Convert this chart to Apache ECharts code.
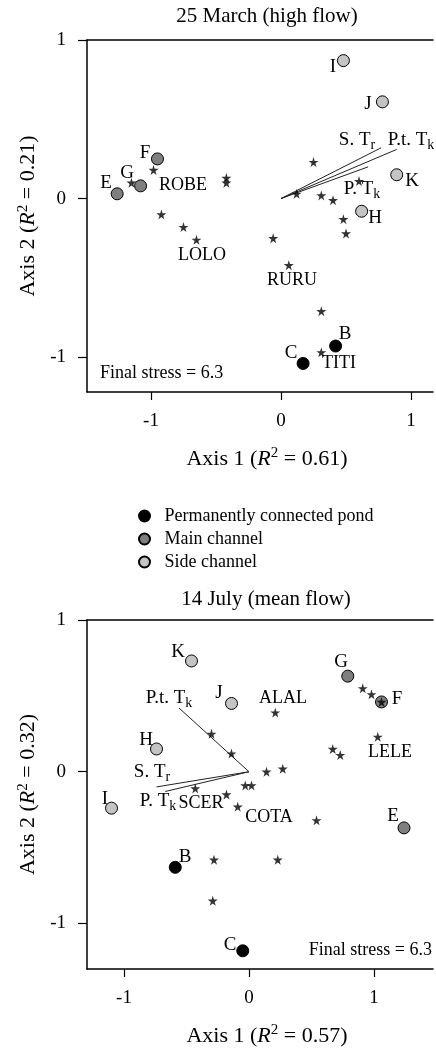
<!DOCTYPE html>
<html><head><meta charset="utf-8">
<script src="https://cdn.jsdelivr.net/npm/echarts@6/dist/echarts.min.js"></script>
<style>html,body{margin:0;padding:0;background:#fff}#c{width:436px;height:1048px}</style>
</head><body><div id="c"></div>
<script>
// ---------- DATA ----------
const panelTitles = ['25 March (high flow)', '14 July (mean flow)'];
const axis1R2 = ['0.61', '0.57'];
const axis2R2 = ['0.21', '0.32'];
const stressValues = ['6.3', '6.3'];
const tickValues = [-1, 0, 1];
const siteTypes = ['Permanently connected pond', 'Main channel', 'Side channel'];

// [site, axis1, axis2]
const marchPond = [['B', 0.42, -0.93], ['C', 0.17, -1.04]];
const marchMain = [['F', -0.95, 0.25], ['G', -1.08, 0.08], ['E', -1.26, 0.03]];
const marchSide = [['I', 0.48, 0.87], ['J', 0.78, 0.61], ['K', 0.89, 0.15], ['H', 0.62, -0.08]];
// [axis1, axis2, species label]
const marchSpecies = [
  [-0.98, 0.18, ''], [-1.15, 0.10, 'ROBE'], [-0.42, 0.13, ''], [-0.42, 0.10, ''],
  [0.25, 0.23, ''], [0.12, 0.03, ''], [0.31, 0.02, ''], [0.40, -0.01, ''],
  [0.60, 0.11, ''], [0.48, -0.13, ''], [0.50, -0.22, ''], [-0.92, -0.10, ''],
  [-0.75, -0.18, ''], [-0.65, -0.26, 'LOLO'], [-0.06, -0.25, ''], [0.06, -0.42, 'RURU'],
  [0.31, -0.71, ''], [0.31, -0.97, 'TITI']
];
// [vector label, axis1 end, axis2 end]
const marchVectors = [['S. T|r', 0.77, 0.32], ['P.t. T|k', 0.89, 0.31], ['P. T|k', 0.67, 0.20]];

const julyPond = [['B', -0.59, -0.63], ['C', -0.05, -1.18]];
const julyMain = [['G', 0.79, 0.63], ['F', 1.06, 0.46], ['E', 1.24, -0.37]];
const julySide = [['K', -0.46, 0.73], ['J', -0.14, 0.45], ['H', -0.74, 0.15], ['I', -1.10, -0.24]];
const julySpecies = [
  [0.21, 0.39, 'ALAL'], [-0.30, 0.25, ''], [-0.14, 0.12, ''], [0.14, 0.00, ''],
  [0.27, 0.02, ''], [-0.03, -0.09, ''], [0.02, -0.09, ''], [-0.43, -0.11, ''],
  [-0.18, -0.15, 'SCER'], [-0.09, -0.23, 'COTA'], [0.91, 0.55, ''], [0.98, 0.51, ''],
  [1.06, 0.46, ''], [1.03, 0.23, 'LELE'], [0.67, 0.15, ''], [0.73, 0.11, ''],
  [0.54, -0.32, ''], [-0.28, -0.58, ''], [0.23, -0.58, ''], [-0.29, -0.85, '']
];
const julyVectors = [['P.t. T|k', -0.56, 0.42], ['S. T|r', -0.74, -0.10], ['P. T|k', -0.67, -0.13]];

// ---------- STYLE / LAYOUT ----------
const FONT = '"Liberation Serif","DejaVu Serif",serif';
const typeColors = ['#000000', '#7f7f7f', '#c4c4c4'];
const STAR = 'path://M50,0 L61,35 L98,35 L68,57 L79,91 L50,70 L21,91 L32,57 L2,35 L39,35 Z';
// label offsets (px, label centre relative to mark)
const siteOffsets = [
  {I:[-10,6], J:[-14,2], K:[15,6], H:[13,7], F:[-12,-6], G:[-14,-13], E:[-11,-11], B:[9,-12], C:[-12,-10]},
  {K:[-14,-9], J:[-13,-10], H:[-11,-9], I:[-7,-9], G:[-7,-14], F:[15,-3], E:[-11,-12], B:[10,-10], C:[-13,-6]}
];
const speciesOffsets = [
  {ROBE:[52,2], LOLO:[6,15], RURU:[3,15], TITI:[18,11]},
  {ALAL:[8,-15], LELE:[12,15], SCER:[-26,8], COTA:[31,10]}
];
const vectorOffsets = [
  {'S. T|r':[-24,-8], 'P.t. T|k':[14,-9], 'P. T|k':[-6,22]},
  {'P.t. T|k':[-10,-10], 'S. T|r':[-5,-15], 'P. T|k':[-7,10]}
];
const grids = [
  {left: 87, top: 40, width: 346, height: 352},
  {left: 87, top: 620, width: 346, height: 352}
];
const xRanges = [[-1.492, 1.169], [-1.296, 1.472]];
const yRanges = [[-1.22, 1.0], [-1.30, 1.0]];

const richText = {
  sub: {fontFamily: FONT, fontSize: 14, color: '#000', fill: '#000', padding: [10, 0, 0, 0]},
  n: {fontFamily: FONT, fontSize: 19, color: '#000', fill: '#000'},
  i: {fontFamily: FONT, fontSize: 22, fontStyle: 'italic', color: '#000'},
  sup: {fontFamily: FONT, fontSize: 15, color: '#000', padding: [0, 0, 11, 0]}
};
function vecText(lbl) {
  const [a, b] = lbl.split('|');
  return '{n|' + a + '}{sub|' + b + '}';
}

const series = [];
const sitesByPanel = [[marchPond, marchMain, marchSide], [julyPond, julyMain, julySide]];
const speciesByPanel = [marchSpecies, julySpecies];
const vectorsByPanel = [marchVectors, julyVectors];

for (let p = 0; p < 2; p++) {
  vectorsByPanel[p].forEach(v => {
    series.push({type: 'line', xAxisIndex: p, yAxisIndex: p, symbol: 'none', silent: true,
      lineStyle: {color: '#222', width: 1}, data: [[0, 0], [v[1], v[2]]], z: 2});
  });
  sitesByPanel[p].forEach((arr, t) => {
    series.push({type: 'scatter', name: siteTypes[t], xAxisIndex: p, yAxisIndex: p,
      symbol: 'circle', symbolSize: 12, z: 3, silent: true,
      itemStyle: {color: typeColors[t], borderColor: '#000', borderWidth: 1, opacity: 1},
      data: arr.map(s => [s[1], s[2]])});
  });
  series.push({type: 'scatter', name: 'species', xAxisIndex: p, yAxisIndex: p, symbol: STAR,
    symbolSize: 10, z: 4, silent: true, itemStyle: {color: '#000'},
    data: speciesByPanel[p].map(s => [s[0], s[1]])});
}

const AXLINE = {show: true, onZero: false, lineStyle: {color: '#000', width: 1.5}};
const xAxes = [0, 1].map(p => ({
  gridIndex: p, type: 'value', position: 'bottom', min: xRanges[p][0], max: xRanges[p][1],
  axisLine: AXLINE,
  axisTick: {show: true, customValues: tickValues, length: 8, lineStyle: {color: '#000', width: 1.2}},
  axisLabel: {customValues: tickValues, margin: 20, fontFamily: FONT, fontSize: 19, color: '#000'},
  splitLine: {show: false},
  name: 'Axis 1 ({i|R}{sup|2} = ' + axis1R2[p] + ')', nameLocation: 'middle', nameGap: 54,
  nameTextStyle: {fontFamily: FONT, fontSize: 22, color: '#000', rich: richText, padding: [0, 0, 0, 14]}
})).concat([0, 1].map(p => ({
  // top frame line of each panel
  gridIndex: p, type: 'value', position: 'top', min: xRanges[p][0], max: xRanges[p][1],
  axisLine: AXLINE, axisTick: {show: false}, axisLabel: {show: false}, splitLine: {show: false}
})));
const yAxes = [0, 1].map(p => ({
  gridIndex: p, type: 'value', min: yRanges[p][0], max: yRanges[p][1],
  axisLine: AXLINE,
  axisTick: {show: true, customValues: tickValues, length: 9, lineStyle: {color: '#000', width: 1.2}},
  axisLabel: {customValues: tickValues, margin: 21, fontFamily: FONT, fontSize: 19, color: '#000'},
  splitLine: {show: false},
  name: 'Axis 2 ({i|R}{sup|2} = ' + axis2R2[p] + ')', nameLocation: 'middle', nameGap: 45, nameRotate: 90,
  nameTextStyle: {fontFamily: FONT, fontSize: 22, color: '#000', rich: richText}
}));

const baseGraphic = [
  {type: 'text', left: 100, top: 364, style: {text: 'Final stress = ' + stressValues[0], font: '18px ' + FONT, fill: '#000'}},
  {type: 'text', right: 4, top: 941, style: {text: 'Final stress = ' + stressValues[1], font: '18px ' + FONT, fill: '#000'}}
];

const option = {
  animation: false,
  backgroundColor: '#fff',
  title: [
    {text: panelTitles[0], left: 262, top: 1, textAlign: 'center',
      textStyle: {fontFamily: FONT, fontSize: 21, fontWeight: 'normal', color: '#000'}},
    {text: panelTitles[1], left: 261, top: 584, textAlign: 'center',
      textStyle: {fontFamily: FONT, fontSize: 21, fontWeight: 'normal', color: '#000'}}
  ],
  legend: {data: siteTypes, orient: 'vertical', left: 133, top: 502, icon: 'circle',
    itemWidth: 24, itemHeight: 11, itemGap: 5, selectedMode: false,
    textStyle: {fontFamily: FONT, fontSize: 18, color: '#000', padding: [0, 0, 0, 3]}},
  grid: grids.map(g => Object.assign({show: false, containLabel: false}, g)),
  xAxis: xAxes,
  yAxis: yAxes,
  graphic: baseGraphic,
  series: series
};
const chart = echarts.init(document.getElementById('c'), null, {renderer: 'canvas'});
chart.setOption(option);

// point labels placed through the chart's own coordinate conversion
const labelEls = [];
function addLabel(p, x, y, off, text, size, rich) {
  const px = chart.convertToPixel({xAxisIndex: p, yAxisIndex: p}, [x, y]);
  const style = {text: text, x: Math.round(px[0] + off[0]), y: Math.round(px[1] + off[1]),
    align: 'center', verticalAlign: 'middle', fill: '#000', font: size + 'px ' + FONT};
  if (rich) style.rich = rich;
  labelEls.push({type: 'text', z: 1, silent: true, style: style});
}
for (let p = 0; p < 2; p++) {
  sitesByPanel[p].forEach(arr => arr.forEach(s => addLabel(p, s[1], s[2], siteOffsets[p][s[0]], s[0], 19)));
  speciesByPanel[p].forEach(s => { if (s[2]) addLabel(p, s[0], s[1], speciesOffsets[p][s[2]], s[2], 18); });
  vectorsByPanel[p].forEach(v => addLabel(p, v[1], v[2], vectorOffsets[p][v[0]], vecText(v[0]), 19, richText));
}
chart.setOption({graphic: baseGraphic.concat(labelEls)});
</script></body></html>
